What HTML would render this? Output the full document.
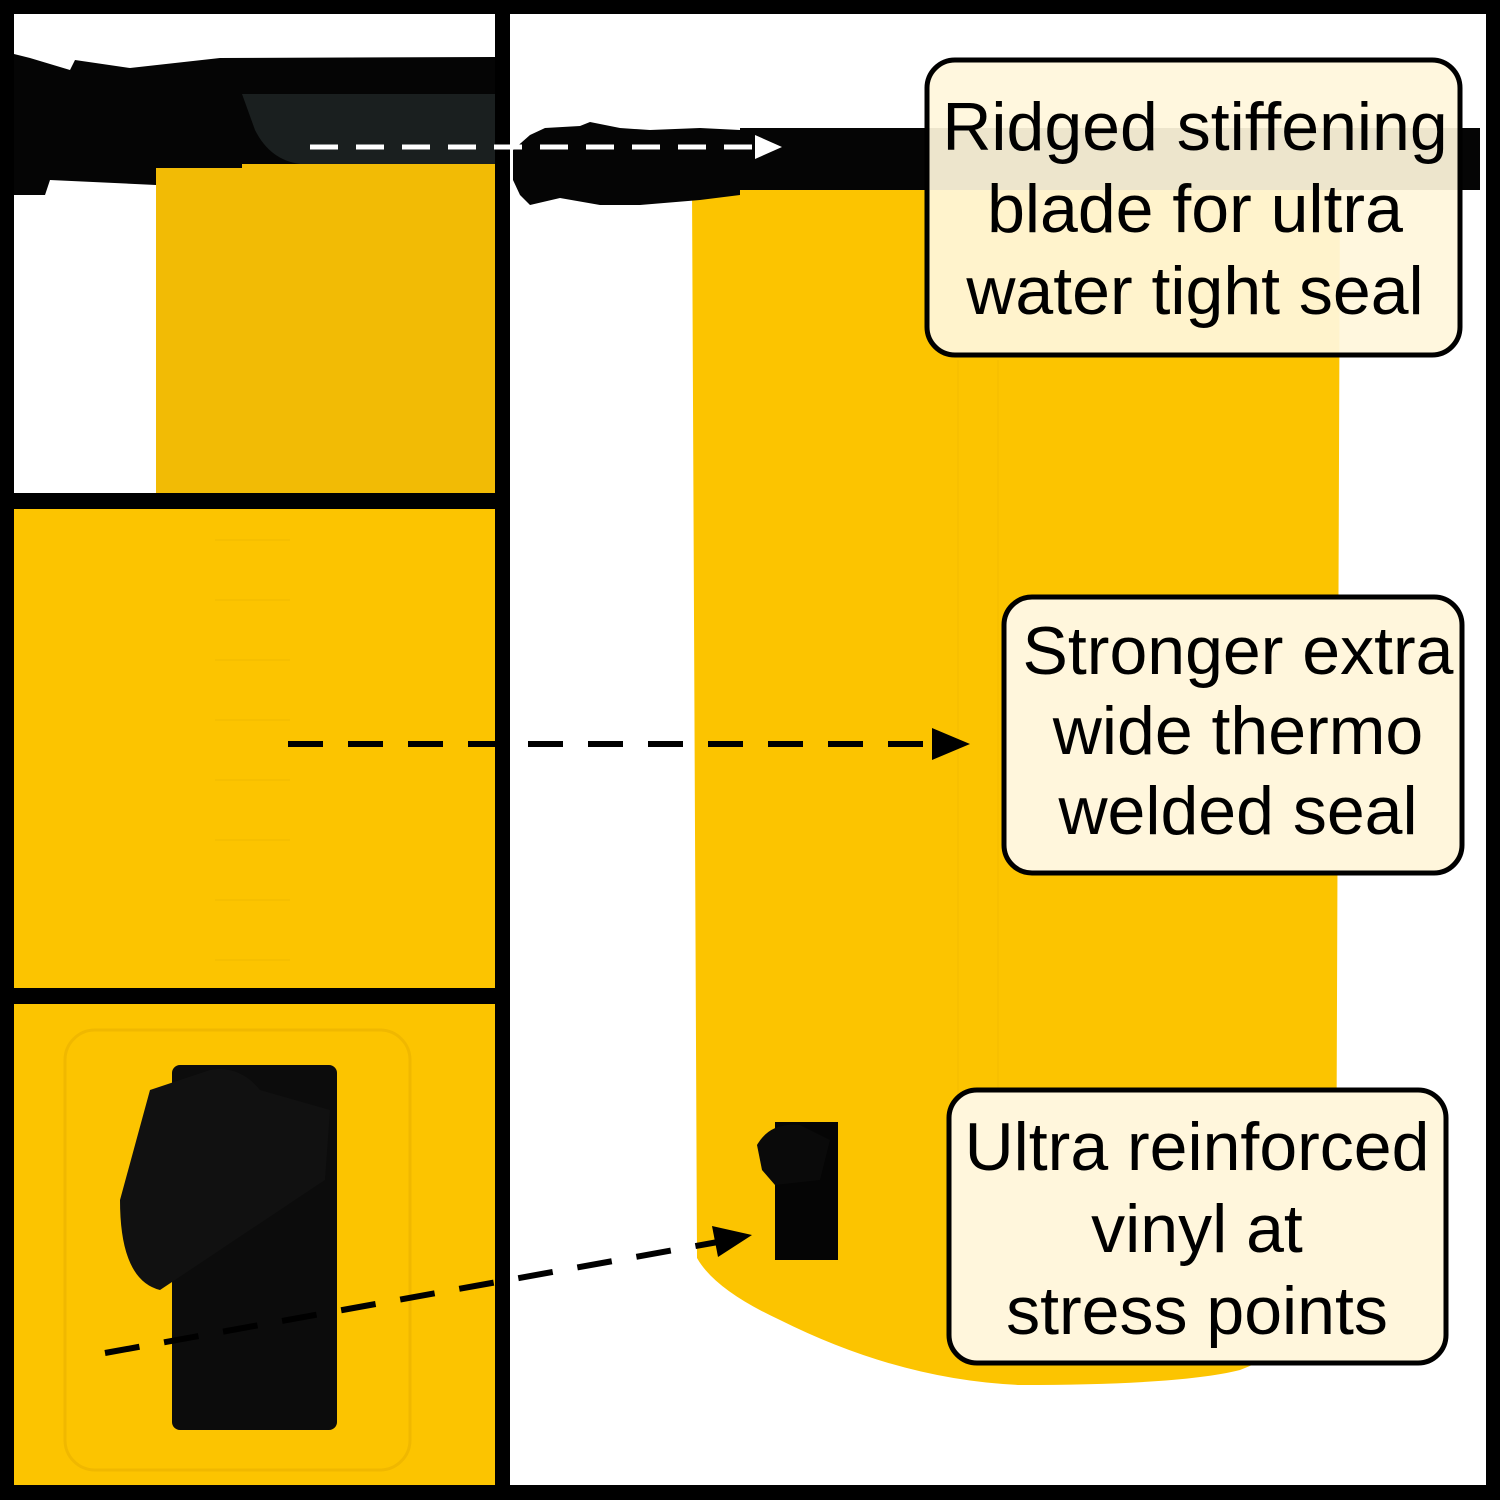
<!DOCTYPE html>
<html><head><meta charset="utf-8"><style>
html,body{margin:0;padding:0;background:#000;}
svg{display:block}
text{font-family:"Liberation Sans",sans-serif;font-size:68px;fill:#000;text-anchor:middle}
</style></head><body>
<svg width="1500" height="1500" viewBox="0 0 1500 1500" xmlns="http://www.w3.org/2000/svg">
<rect width="1500" height="1500" fill="#000"/>
<rect x="14" y="14" width="481" height="479" fill="#fff"/>
<rect x="156" y="160" width="339" height="333" fill="#f2bb05"/>
<path d="M14 54 L30 58 L70 70 L75 60 L130 68 L220 58 L495 57 L495 164 L242 164 L242 168 L156 168 L156 185 L50 180 L45 195 L14 195 Z" fill="#050505"/>
<path d="M242 94 L495 94 L495 164 L300 164 Q270 160 255 130 Z" fill="#1a1f1f"/>
<rect x="14" y="509" width="481" height="479" fill="#fcc400"/>
<g stroke="#f0ba00" stroke-width="1">
<line x1="215" y1="540" x2="290" y2="540"/><line x1="215" y1="600" x2="290" y2="600"/><line x1="215" y1="660" x2="290" y2="660"/><line x1="215" y1="720" x2="290" y2="720"/><line x1="215" y1="780" x2="290" y2="780"/><line x1="215" y1="840" x2="290" y2="840"/><line x1="215" y1="900" x2="290" y2="900"/><line x1="215" y1="960" x2="290" y2="960"/>
</g>
<rect x="14" y="1004" width="481" height="481" fill="#fcc400"/>
<rect x="65" y="1030" width="345" height="440" rx="30" fill="none" stroke="#f0b800" stroke-width="3"/>
<rect x="172" y="1065" width="165" height="365" rx="8" fill="#0c0c0c"/>
<path d="M150 1090 L210 1070 Q240 1065 260 1090 L330 1110 L325 1180 L160 1290 Q120 1280 120 1200 Z" fill="#111"/>
<rect x="510" y="14" width="976" height="1471" fill="#fff"/>
<path d="M692 188 L1340 188 L1336 1270 Q1330 1335 1240 1370 Q1180 1385 1020 1385 Q900 1380 780 1320 Q715 1290 697 1258 Z" fill="#fcc400"/>
<g stroke="#f3bd00" stroke-width="1"><line x1="958" y1="360" x2="958" y2="1280"/><line x1="998" y1="360" x2="998" y2="1280"/></g>
<path d="M513 150 L530 135 L545 128 L580 126 L590 122 L620 128 L650 130 L700 128 L740 130 L740 195 L700 200 L640 205 L600 205 L560 198 L530 205 L520 195 L513 180 Z" fill="#050505"/>
<rect x="740" y="128" width="740" height="62" fill="#050505"/>
<rect x="775" y="1122" width="63" height="138" fill="#050505"/>
<path d="M757 1145 Q770 1122 800 1125 L830 1140 L820 1180 L775 1185 L762 1170 Z" fill="#0a0a0a"/>
<line x1="310" y1="147" x2="758" y2="147" stroke="#fff" stroke-width="5" stroke-dasharray="28 18"/>
<polygon points="755,135 782,147 755,159" fill="#fff"/>
<line x1="288" y1="744" x2="935" y2="744" stroke="#000" stroke-width="6" stroke-dasharray="35 25"/>
<polygon points="932,728 970,744 932,760" fill="#000"/>
<line x1="105" y1="1353" x2="718" y2="1242" stroke="#000" stroke-width="6" stroke-dasharray="35 25"/>
<polygon points="712,1226 752,1235 718,1257" fill="#000"/>
<rect x="927" y="60" width="533" height="295" rx="28" fill="#fff6dc" fill-opacity="0.93" stroke="#000" stroke-width="5"/>
<text x="1195" y="150">Ridged stiffening</text>
<text x="1195" y="232">blade for ultra</text>
<text x="1195" y="314">water tight seal</text>
<rect x="1004" y="597" width="458" height="276" rx="28" fill="#fff6dc" stroke="#000" stroke-width="5"/>
<text x="1238" y="674">Stronger extra</text>
<text x="1238" y="754">wide thermo</text>
<text x="1238" y="834">welded seal</text>
<rect x="949" y="1090" width="497" height="273" rx="28" fill="#fff6dc" stroke="#000" stroke-width="5"/>
<text x="1197" y="1170">Ultra reinforced</text>
<text x="1197" y="1252">vinyl at</text>
<text x="1197" y="1334">stress points</text>
</svg>
</body></html>
